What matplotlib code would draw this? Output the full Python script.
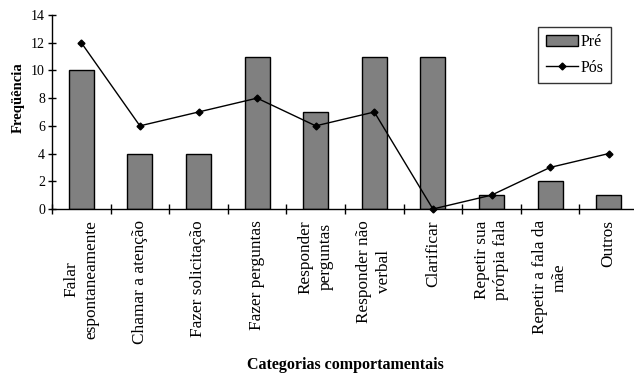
import matplotlib
matplotlib.use("Agg")
import matplotlib.pyplot as plt
import numpy as np

categories = [
    "Falar\nespontaneamente",
    "Chamar a atenção",
    "Fazer solicitação",
    "Fazer perguntas",
    "Responder\nperguntas",
    "Responder não\nverbal",
    "Clarificar",
    "Repetir sua\nprórpia fala",
    "Repetir a fala da\nmãe",
    "Outros",
]
pre_values = [10, 4, 4, 11, 7, 11, 11, 1, 2, 1]
pos_values = [12, 6, 7, 8, 6, 7, 0, 1, 3, 4]
y_ticks = [0, 2, 4, 6, 8, 10, 12, 14]

plt.rcParams["font.family"] = ["Liberation Serif", "DejaVu Serif"]

W, H = 634, 374
fig = plt.figure(figsize=(W / 100, H / 100), dpi=100)
ax = fig.add_axes([52 / W, (H - 209) / H, 586 / W, 194 / H])

x = np.arange(len(categories))
bars = ax.bar(x, pre_values, width=0.43, color="#808080", edgecolor="black",
              linewidth=1.0, label="Pré", zorder=2)
line, = ax.plot(x, pos_values, color="black", linewidth=1.0, marker="D",
                markersize=3.5, label="Pós", zorder=3, clip_on=False)

ax.set_xlim(-0.5, len(categories) - 0.5)
ax.set_ylim(0, 14)
ax.set_yticks(y_ticks)
ax.tick_params(axis="y", direction="inout", length=6, width=1, labelsize=10, pad=2)

# category separators as crossing ticks, labels centered on each category
ax.set_xticks(np.arange(len(categories) + 1) - 0.5, minor=True)
ax.set_xticks(x)
ax.set_xticklabels(categories, rotation=90, ha="center", va="top",
                   multialignment="center", fontsize=12.4, linespacing=1.3)
ax.tick_params(axis="x", which="major", length=0, pad=8)
ax.tick_params(axis="x", which="minor", direction="inout", length=7, width=1)

for side in ("top", "right"):
    ax.spines[side].set_visible(False)
ax.spines["left"].set_linewidth(1)
ax.spines["bottom"].set_linewidth(1)

fig.text(18 / W, 1 - 98 / H, "Freqüência", rotation=90, ha="center",
         va="center", fontsize=10.5, fontweight="bold")
fig.text(345 / W, 1 - 365 / H, "Categorias comportamentais", ha="center",
         va="center", fontsize=11.5, fontweight="bold")

leg = ax.legend(handles=[bars, line], loc="upper right",
                bbox_to_anchor=(611 / W, 1 - 27 / H),
                bbox_transform=fig.transFigure, fancybox=False, frameon=True,
                edgecolor="black", fontsize=11.5, handlelength=2.0,
                handleheight=0.65, borderpad=0.45, labelspacing=0.6,
                handletextpad=0.2, borderaxespad=0)
leg.get_frame().set_linewidth(1)

fig.savefig("out.png", dpi=100)
